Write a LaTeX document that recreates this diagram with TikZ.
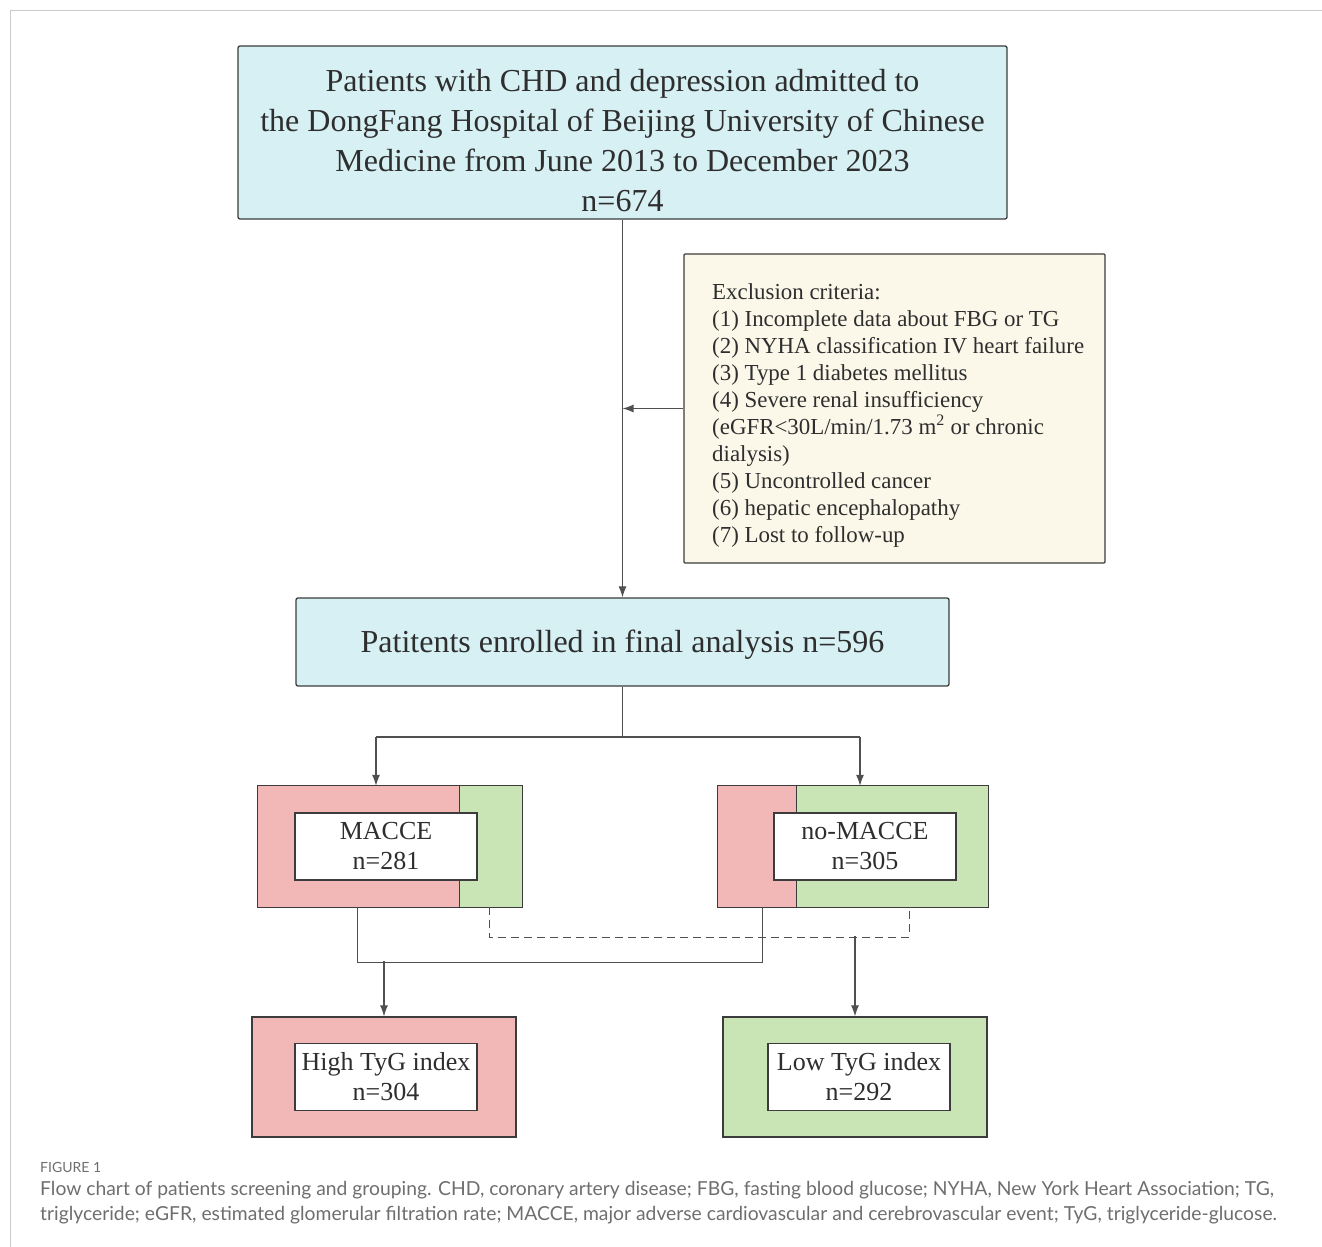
\documentclass[tikz,border=0pt]{standalone}
\usepackage{fontspec}
\setmainfont{Liberation Serif}
\newfontfamily\capfont{Lato}
\usetikzlibrary{arrows.meta,calc}

\definecolor{boxline}{HTML}{3C3C3C}
\definecolor{flowline}{HTML}{505050}
\definecolor{boxtext}{HTML}{2E2E2E}
\definecolor{framegrey}{HTML}{CACACA}
\definecolor{boxcyan}{HTML}{D6F0F3}
\definecolor{boxcream}{HTML}{FBF8EA}
\definecolor{tyred}{HTML}{F2B8B8}
\definecolor{tygreen}{HTML}{C9E4B5}
\definecolor{captext}{HTML}{6E6E6E}

\tikzset{
  box/.style={draw=boxline, line width=1.3pt, inner sep=0pt, text=boxtext},
  label text/.style={inner sep=0pt, text=boxtext},
  outer/.style={inner sep=0pt, minimum width=264pt, minimum height=121pt},
  rim/.style={draw=boxline, line width=1.3pt},
  inbox/.style={box, fill=white, minimum width=182pt, minimum height=67pt,
    align=center, font=\fontsize{26}{30}\selectfont},
  flow/.style={draw=flowline, line width=1.1pt},
  arr/.style={flow, -{Latex[length=11pt,width=8pt]}}
}

\begin{document}
\begin{tikzpicture}[x=1pt,y=-1pt]
  \useasboundingbox (0,0) rectangle (1322,1247);
  \draw[framegrey, line width=1pt] (1322,11) -- (10,11) -- (10,1247);

  \node[box, fill=boxcyan, rounded corners=2pt, minimum width=769pt, minimum height=173pt]
    (top) at (622.5,132.5) {};
  \node[label text, align=center, font=\fontsize{32}{40}\selectfont] (toptext)
    at ($(top.center)+(0,8)$)
    {Patients with CHD and depression admitted to\\
     the DongFang Hospital of Beijing University of Chinese\\
     Medicine from June 2013 to December 2023\\
     n=674};

  \node[box, fill=boxcream, rounded corners=1pt, minimum width=421pt, minimum height=309pt]
    (excl) at (894.5,408.5) {};
  \node[label text, anchor=north west, align=left,
    font=\fontsize{22.9}{27}\selectfont] (excltext) at (712,283)
    {Exclusion criteria:\\
     (1) Incomplete data about FBG or TG\\
     (2) NYHA classification IV heart failure\\
     (3) Type 1 diabetes mellitus\\
     (4) Severe renal insufficiency\\
     (eGFR<30L/min/1.73 m\textsuperscript{2} or chronic\\
     dialysis)\\
     (5) Uncontrolled cancer\\
     (6) hepatic encephalopathy\\
     (7) Lost to follow-up};

  \node[box, fill=boxcyan, rounded corners=2pt, minimum width=653pt, minimum height=88pt]
    (enroll) at (622.5,642) {};
  \node[label text, font=\fontsize{32}{36}\selectfont] (enrolltext)
    at ($(enroll.center)+(0,3)$) {Patitents enrolled in final analysis n=596};

  \draw[arr] (top.south) -- (enroll.north);
  \draw[arr] (excl.west) -- (excl.west -| top.south);

  % MACCE groups
  \node[outer, fill=tyred] (macce) at (390,846.5) {};
  \fill[tygreen] ($(macce.north east)+(-63,0)$) rectangle (macce.south east);
  \draw[rim] ($(macce.north east)+(-63,0)$) -- ($(macce.south east)+(-63,0)$)
    (macce.north west) rectangle (macce.south east);
  \node[inbox] (maccein) at (386,846.5) {MACCE\\n=281};

  \node[outer, minimum width=270pt, fill=tygreen] (nomacce) at (853,846.5) {};
  \fill[tyred] (nomacce.north west) rectangle ($(nomacce.south west)+(79,0)$);
  \draw[rim] ($(nomacce.north west)+(79,0)$) -- ($(nomacce.south west)+(79,0)$)
    (nomacce.north west) rectangle (nomacce.south east);
  \node[inbox] (nomaccein) at (865,846.5) {no-MACCE\\n=305};

  \coordinate (splitL) at (376,737);
  \coordinate (splitR) at (860,737);
  \draw[flow] (enroll.south) -- (enroll.south |- splitL);
  \draw[flow] (splitL) -- (splitR);
  \draw[arr] (splitL) -- (splitL |- macce.north);
  \draw[arr] (splitR) -- (splitR |- nomacce.north);

  % TyG groups
  \node[outer, fill=tyred, rim, minimum height=120pt] (high) at (384,1077) {};
  \node[inbox] (highin) at (386,1077) {High TyG index\\n=304};
  \node[outer, fill=tygreen, rim, minimum height=120pt] (low) at (855,1077) {};
  \node[inbox] (lowin) at (859,1077) {Low TyG index\\n=292};

  \draw[flow] ($(macce.south west)+(100,0)$) -- ++(0,55) -| ($(nomacce.south west)+(45,0)$);
  \draw[flow, dash pattern=on 8pt off 5pt] ($(macce.south east)+(-33,0)$) -- ++(0,30)
    -| ($(nomacce.south east)+(-79,0)$);
  \draw[arr] ($(high.north)+(0,-55)$) -- (high.north);
  \draw[arr] ($(low.north)+(0,-80)$) -- (low.north);

  \node[anchor=west, inner sep=0pt, text=captext, font=\capfont\fontsize{14}{16}\selectfont]
    (figlabel) at (40,1167) {FIGURE 1};
  \node[anchor=north west, align=left, inner sep=0pt, text=captext,
    font=\capfont\fontsize{19.3}{25}\selectfont] (caption) at (40,1181)
    {Flow chart of patients screening and grouping. CHD, coronary artery disease; FBG, fasting blood glucose; NYHA, New York Heart Association; TG,\\
     triglyceride; eGFR, estimated glomerular filtration rate; MACCE, major adverse cardiovascular and cerebrovascular event; TyG, triglyceride-glucose.};
\end{tikzpicture}
\end{document}
